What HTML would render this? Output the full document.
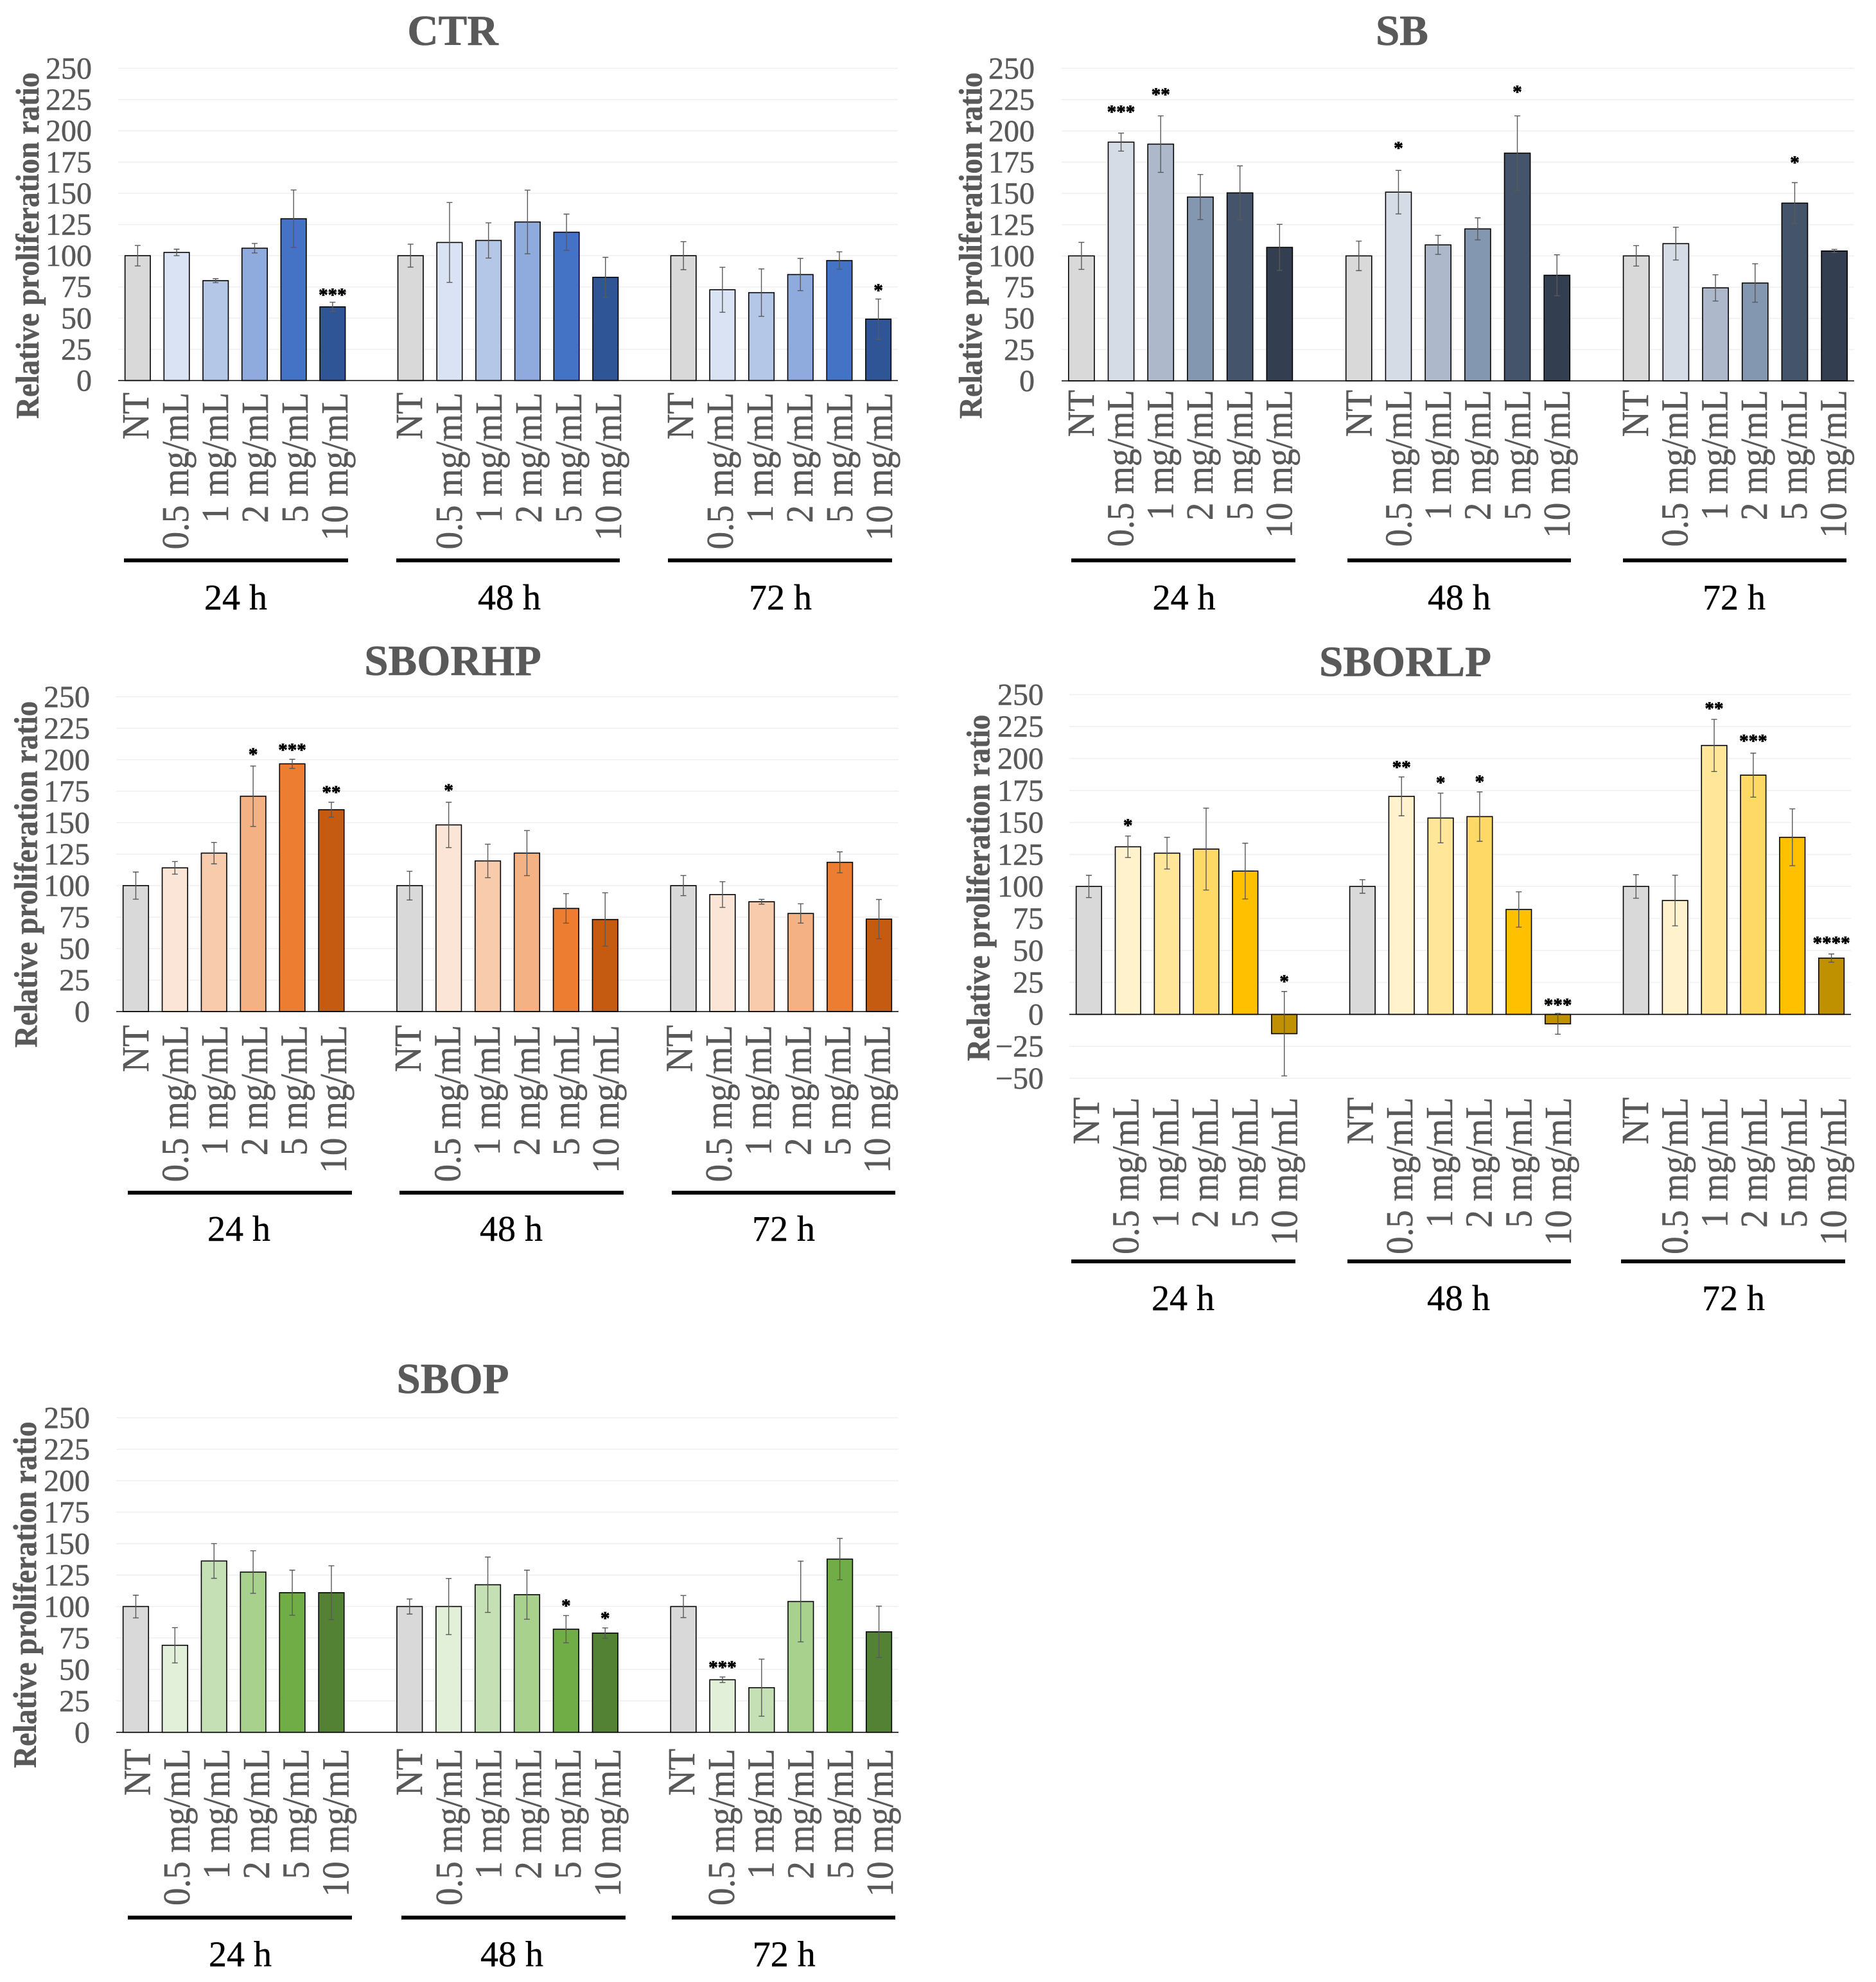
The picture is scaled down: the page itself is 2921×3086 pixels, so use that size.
<!DOCTYPE html>
<html lang="en">
<head>
<meta charset="utf-8">
<title>Relative proliferation ratio charts</title>
<style>
html,body{margin:0;padding:0;background:#fff;}
svg{display:block;font-family:"Liberation Serif",serif;}
</style>
</head>
<body>
<svg id="figure" xmlns="http://www.w3.org/2000/svg" width="2921" height="3086" viewBox="0 0 2921 3086"></svg>
<script>
/* ---------- shared labels ---------- */
const categories = ["NT", "0.5 mg/mL", "1 mg/mL", "2 mg/mL", "5 mg/mL", "10 mg/mL"];
const timeGroups = ["24 h", "48 h", "72 h"];
const yTicks = [250, 225, 200, 175, 150, 125, 100, 75, 50, 25, 0];
const yTicksExtended = [250, 225, 200, 175, 150, 125, 100, 75, 50, 25, 0, -25, -50];
const yTitle = "Relative proliferation ratio";

/* ---------- CTR data ---------- */
const ctrValues = [[100, 102.6, 80, 106, 129.6, 59], [100, 110.6, 112.2, 127, 118.8, 82.7], [100, 72.7, 70.4, 84.9, 96.1, 49.2]];
const ctrErrors = [[8.2, 2.6, 1.6, 3.8, 23, 3.7], [9.2, 32, 14.1, 25.5, 14.5, 16], [11.2, 18, 19, 12.9, 7, 16.1]];
const ctrSigLabels = [["", "", "", "", "", "***"], ["", "", "", "", "", ""], ["", "", "", "", "", "*"]];
const ctrSigLevels = [[0, 0, 0, 0, 0, 70.5], [0, 0, 0, 0, 0, 0], [0, 0, 0, 0, 0, 74]];

/* ---------- SB data ---------- */
const sbValues = [[100, 191, 189.4, 147.1, 150.4, 106.8], [100, 151, 108.8, 121.6, 182.2, 84.5], [100, 109.8, 74.4, 78.3, 142.2, 103.9]];
const sbErrors = [[10.8, 7.2, 22.6, 18, 21.6, 18.4], [11.8, 17.4, 7.6, 8.8, 29.8, 16.4], [8.2, 13.1, 10.5, 15.4, 16.4, 1.3]];
const sbSigLabels = [["", "***", "**", "", "", ""], ["", "*", "", "", "*", ""], ["", "", "", "", "*", ""]];
const sbSigLevels = [[0, 217, 231, 0, 0, 0], [0, 188, 0, 0, 233, 0], [0, 0, 0, 0, 176.6, 0]];

/* ---------- SBORHP data ---------- */
const sborhpValues = [[100, 114.1, 125.8, 171, 196.7, 160.3], [100, 148.2, 119.6, 125.8, 81.9, 73.1], [100, 92.9, 87.2, 77.9, 118.5, 73.4]];
const sborhpErrors = [[10.8, 5, 8.5, 24, 3.6, 5.9], [11.4, 18, 13.3, 17.9, 11.7, 21.2], [8, 10.2, 1.9, 7.7, 8.3, 15.6]];
const sborhpSigLabels = [["", "", "", "*", "***", "**"], ["", "*", "", "", "", ""], ["", "", "", "", "", ""]];
const sborhpSigLevels = [[0, 0, 0, 206, 209.7, 176], [0, 177.5, 0, 0, 0, 0], [0, 0, 0, 0, 0, 0]];

/* ---------- SBORLP data ---------- */
const sborlpValues = [[100, 131, 126, 129.2, 112, -15.1], [100, 170.4, 153.5, 154.6, 82, -7.4], [100, 89, 210.2, 187, 138.4, 44]];
const sborlpErrors = [[8.7, 8.4, 12.4, 32, 21.8, 33], [5.3, 15.2, 19.4, 19.3, 13.8, 8.1], [9.2, 19.8, 20.4, 17.2, 22.2, 3.2]];
const sborlpSigLabels = [["", "*", "", "", "", "*"], ["", "**", "*", "*", "", "***"], ["", "", "**", "***", "", "****"]];
const sborlpSigLevels = [[0, 149.6, 0, 0, 0, 27.5], [0, 195, 183, 183.8, 0, 9.2], [0, 0, 240.8, 215.5, 0, 57.7]];

/* ---------- SBOP data ---------- */
const sbopValues = [[100, 69.2, 136.2, 127.4, 111, 111], [100, 100, 117.3, 109.4, 82, 78.9], [100, 41.8, 35.5, 104, 137.7, 79.9]];
const sbopErrors = [[9, 14, 13.8, 16.9, 17.9, 21.4], [6, 22.3, 22, 19.5, 10.8, 4.1], [8.8, 2.2, 22.7, 32.1, 16.4, 20.4]];
const sbopSigLabels = [["", "", "", "", "", ""], ["", "", "", "", "*", "*"], ["", "***", "", "", "", ""]];
const sbopSigLevels = [[0, 0, 0, 0, 0, 0], [0, 0, 0, 0, 102.5, 92.5], [0, 53.5, 0, 0, 0, 0]];

/* ---------- palettes ---------- */
const ctrColors = ["#D9D9D9", "#DAE3F3", "#B4C7E7", "#8FAADC", "#4472C4", "#2F5597"];
const sbColors = ["#D9D9D9", "#D6DCE5", "#ADB9CA", "#8497B0", "#44546A", "#333F50"];
const sborhpColors = ["#D9D9D9", "#FBE5D6", "#F8CBAD", "#F4B183", "#ED7D31", "#C55A11"];
const sborlpColors = ["#D9D9D9", "#FFF2CC", "#FFE699", "#FFD966", "#FFC000", "#BF9000"];
const sbopColors = ["#D9D9D9", "#E2F0D9", "#C5E0B4", "#A9D18E", "#70AD47", "#548235"];

/* ---------- layout of each panel ---------- */
const charts = [
  {key:"ctr", title:"CTR", values:ctrValues, errors:ctrErrors, sig:ctrSigLabels, sigAt:ctrSigLevels, colors:ctrColors, ticks:yTicks,
   left:184, right:1398, y0:592.5, y250:106.5, tickRight:143, titleX:705, titleY:70, axisX:60, axisBottom:652,
   labelTop:611, labelStart:[231,657,1079], labelStep:62,
   rules:[[193,542],[617,965],[1040,1389]], ruleY:872.5, groupX:[367,793,1215], groupY:949},
  {key:"sb", title:"SB", values:sbValues, errors:sbErrors, sig:sbSigLabels, sigAt:sbSigLevels, colors:sbColors, ticks:yTicks,
   left:1653, right:2887, y0:593, y250:106.5, tickRight:1611, titleX:2183, titleY:70, axisX:1528.5, axisBottom:652,
   labelTop:607, labelStart:[1703,2135.6,2566], labelStep:61.7,
   rules:[[1668,2017],[2098,2446],[2527,2875]], ruleY:872.5, groupX:[1843.5,2272,2700], groupY:949},
  {key:"sborhp", title:"SBORHP", values:sborhpValues, errors:sborhpErrors, sig:sborhpSigLabels, sigAt:sborhpSigLevels, colors:sborhpColors, ticks:yTicks,
   left:181, right:1399, y0:1575, y250:1084.8, tickRight:140, titleX:705, titleY:1051, axisX:57.4, axisBottom:1631,
   labelTop:1596, labelStart:[231,655,1077.5], labelStep:61.6,
   rules:[[199,548],[622,971],[1046,1394]], ruleY:1857, groupX:[372,796,1220], groupY:1932},
  {key:"sborlp", title:"SBORLP", values:sborlpValues, errors:sborlpErrors, sig:sborlpSigLabels, sigAt:sborlpSigLevels, colors:sborlpColors, ticks:yTicksExtended,
   left:1665, right:2882, y0:1579.4, y250:1081.4, tickRight:1625, titleX:2188, titleY:1052.6, axisX:1540.6, axisBottom:1652,
   labelTop:1708.5, labelStart:[1711,2137.5,2566], labelStep:61.7,
   rules:[[1668,2017],[2098,2446],[2524,2873]], ruleY:1964, groupX:[1842,2271,2699], groupY:2040},
  {key:"sbop", title:"SBOP", values:sbopValues, errors:sbopErrors, sig:sbopSigLabels, sigAt:sbopSigLevels, colors:sbopColors, ticks:yTicks,
   left:181, right:1399, y0:2697.3, y250:2207.5, tickRight:140, titleX:705, titleY:2169, axisX:56, axisBottom:2752.8,
   labelTop:2722.6, labelStart:[233.4,657,1081], labelStep:61.8,
   rules:[[199,548],[625,974],[1046,1394]], ruleY:2985.7, groupX:[374,797,1220.7], groupY:3061.5}
];

const NS = "http://www.w3.org/2000/svg";
const root = document.getElementById("figure");
function make(tag, attrs, parent, text) {
  const node = document.createElementNS(NS, tag);
  for (const k in attrs) node.setAttribute(k, attrs[k]);
  if (text !== undefined) node.textContent = text;
  parent.appendChild(node);
  return node;
}

charts.forEach(function (c) {
  const yScale = function (v) { return c.y0 - v * (c.y0 - c.y250) / 250; };
  const slot = (c.right - c.left) / 20;
  const xScale = function (g, i) { return c.left + (g * 7 + i + 0.5) * slot; };
  const barW = slot * 0.65;

  const panel = make("g", {}, root);
  
  

  const title = make("text", {x:c.titleX, y:c.titleY, "text-anchor":"middle", "font-size":67, "font-weight":"bold", fill:"#595959", stroke:"#595959", "stroke-width":0.6}, panel, c.title);
  
  

  const axisTitle = make("text", {transform:"translate(" + c.axisX + "," + c.axisBottom + ") rotate(-90) scale(1,1.085)", "font-size":47, "font-weight":"bold", fill:"#595959", stroke:"#595959", "stroke-width":0.5}, panel, yTitle);
  
  

  c.ticks.forEach(function (t) {
    const y = yScale(t);
    if (t !== 0) {
      const grid = make("line", {x1:c.left, x2:c.right, y1:y, y2:y, stroke:"#F0F0F0", "stroke-width":1.6}, panel);
      
      
    }
    const tick = make("text", {x:c.tickRight, y:y + 16, "text-anchor":"end", "font-size":48, fill:"#595959", stroke:"#595959", "stroke-width":0.5}, panel, String(t).replace("-", "\u2212"));
    
    
  });

  c.values.forEach(function (series, g) {
    series.forEach(function (v, i) {
      const cx = xScale(g, i);
      const top = Math.min(yScale(v), yScale(0));
      const h = Math.abs(yScale(v) - yScale(0));
      const bar = make("rect", {x:cx - barW / 2, y:top, width:barW, height:h, fill:c.colors[i], stroke:"#000", "stroke-width":1.6}, panel);
      
      
    });
  });

  const axis = make("line", {x1:c.left, x2:c.right, y1:c.y0, y2:c.y0, stroke:"#000", "stroke-width":1.6}, panel);
  
  

  c.values.forEach(function (series, g) {
    series.forEach(function (v, i) {
      const cx = xScale(g, i);
      const e = c.errors[g][i];
      const hi = yScale(v + e);
      const lo = yScale(v - e);
      const err = make("path", {d:"M" + (cx - 4.5) + " " + hi + "H" + (cx + 4.5) + "M" + cx + " " + hi + "V" + lo + "M" + (cx - 4.5) + " " + lo + "H" + (cx + 4.5), fill:"none", stroke:"#595959", "stroke-width":1.4}, panel);
      
      

      const mark = c.sig[g][i];
      if (mark) {
        const star = make("text", {x:cx, y:yScale(c.sigAt[g][i]) + 13, "text-anchor":"middle", "font-size":29, "font-weight":"bold", fill:"#000", stroke:"#000", "stroke-width":0.8}, panel, mark);
        
        
      }

      const bx = c.labelStart[g] + i * c.labelStep;
      const lab = make("text", {transform:"translate(" + bx + "," + c.labelTop + ") rotate(-90) scale(1,1.085)", "text-anchor":"end", "font-size":55, fill:"#595959", stroke:"#595959", "stroke-width":0.5}, panel, categories[i]);
      
      
    });

    const rule = make("rect", {x:c.rules[g][0], y:c.ruleY - 3, width:c.rules[g][1] - c.rules[g][0], height:6, fill:"#000"}, panel);
    
    

    const groupLabel = make("text", {x:c.groupX[g], y:c.groupY, "text-anchor":"middle", "font-size":56, fill:"#000", stroke:"#000", "stroke-width":0.4}, panel, timeGroups[g]);
    
    
  });
});
</script>
</body>
</html>
